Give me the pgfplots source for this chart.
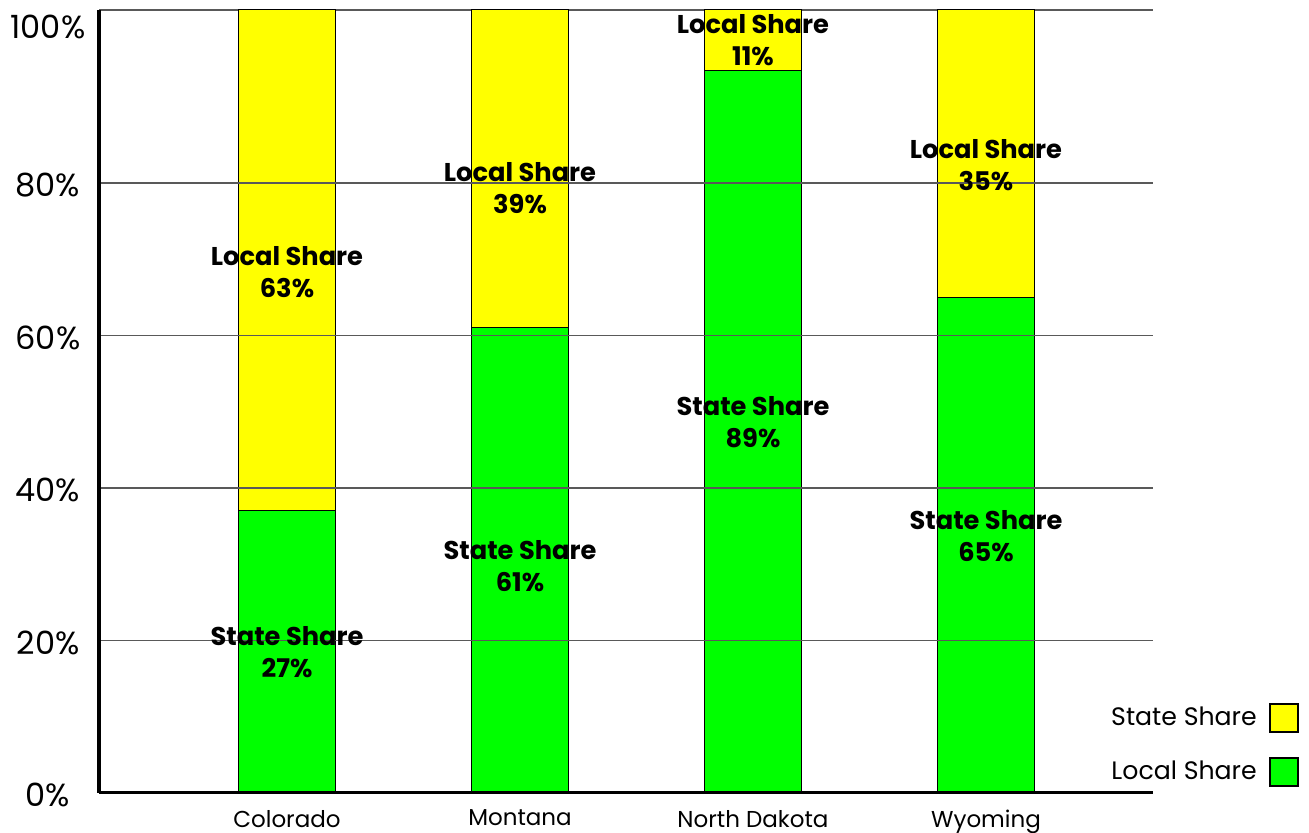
\documentclass[border=0pt]{standalone}
\usepackage{pgfplots}
\pgfplotsset{compat=1.18}
\usepackage{fontspec}
\setmainfont{Poppins}
\definecolor{barGreen}{RGB}{0,255,0}
\definecolor{barYellow}{RGB}{255,255,0}
\tikzset{lbl/.style={align=center, font=\bfseries\fontsize{12.85}{16}\selectfont}}
\begin{document}
\begin{tikzpicture}
\useasboundingbox (-49.5pt,-20pt) rectangle (605pt,396.5pt);
\begin{axis}[
 at={(0,0)}, anchor=south west,
 scale only axis, width=527pt, height=391.5pt,
 xmin=-0.807, xmax=3.717, ymin=0, ymax=102.7,
 ybar stacked, bar width=0.4125,
 axis on top,
 xtick={0,1,2,3}, xticklabels={Colorado,Montana,North Dakota,Wyoming},
 ytick={0,20,40,60,80}, yticklabels={0\%,20\%,40\%,60\%,80\%},
 extra y ticks={100.7}, extra y tick labels={100\%}, extra y tick style={grid=none},
 ymajorgrids, grid style={black!65, line width=0.7pt},
 major tick length=0pt,
 axis x line=bottom, axis y line=left,
 x axis line style={-, line width=1.5pt},
 y axis line style={-, line width=2pt},
 yticklabel style={font=\fontsize{16}{19}\selectfont, anchor=center, xshift=-25.5pt, yshift=-1pt},
 xticklabel style={font=\fontsize{11.5}{14}\selectfont, yshift=-5pt},
 legend style={draw=none, fill=none, at={(1.1448,0.0613)}, anchor=east, font=\fontsize{12.6}{15}\selectfont, row sep=12pt},
 legend cell align=right, legend plot pos=right, reverse legend,
 legend image code/.code={\path (0pt,0pt); \draw[#1, draw=black, line width=1pt] (4.5pt,-7pt) rectangle (18.5pt,7pt);},
 clip=false,
]
\addplot[fill=barGreen, draw=black, line width=0.5pt] coordinates {(0,37) (1,61) (2,94.8) (3,65)};
\addplot[fill=barYellow, draw=black, line width=0.5pt] coordinates {(0,65.7) (1,41.7) (2,7.9) (3,37.7)};
\legend{Local Share, State Share}
\draw[black!65, line width=0.7pt] (rel axis cs:0,1) -- (rel axis cs:1,1);
\coordinate (l0) at (axis cs:0,68.3);
\coordinate (s0) at (axis cs:0,18.5);
\coordinate (l1) at (axis cs:1,79.3);
\coordinate (s1) at (axis cs:1,29.8);
\coordinate (l2) at (axis cs:2,98.75);
\coordinate (s2) at (axis cs:2,48.7);
\coordinate (l3) at (axis cs:3,82.4);
\coordinate (s3) at (axis cs:3,33.7);
\end{axis}
\node[lbl] at (l0) {Local Share\\63\%};
\node[lbl] at (s0) {State Share\\27\%};
\node[lbl] at (l1) {Local Share\\39\%};
\node[lbl] at (s1) {State Share\\61\%};
\node[lbl] at (l2) {Local Share\\11\%};
\node[lbl] at (s2) {State Share\\89\%};
\node[lbl] at (l3) {Local Share\\35\%};
\node[lbl] at (s3) {State Share\\65\%};
\end{tikzpicture}
\end{document}
